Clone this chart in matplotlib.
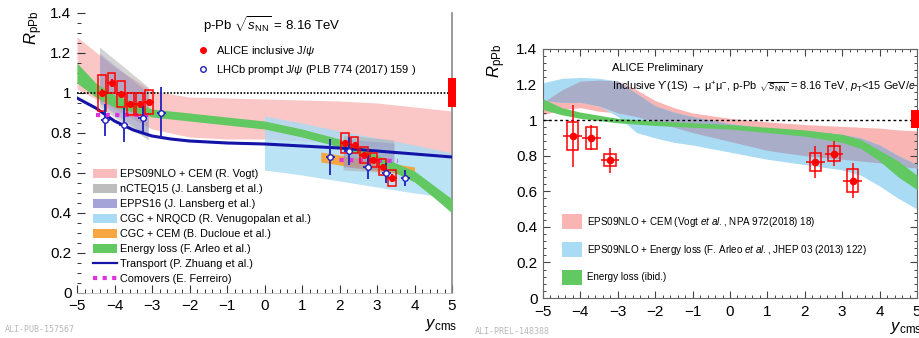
import numpy as np
import matplotlib.pyplot as plt
from matplotlib.patches import Patch
from matplotlib.lines import Line2D
from matplotlib.ticker import MultipleLocator, AutoMinorLocator, FuncFormatter

plt.rcParams['font.family'] = ['Liberation Sans', 'DejaVu Sans']
plt.rcParams['mathtext.fontset'] = 'custom'
plt.rcParams['mathtext.rm'] = 'Liberation Sans'
plt.rcParams['mathtext.it'] = 'Liberation Sans:italic'

W, H = 919, 338
def fx(px): return px / W
def fy(py): return 1 - py / H

# ---------------- left panel: J/psi ----------------
# ALICE inclusive J/psi
alice_x = [-4.33, -4.08, -3.83, -3.58, -3.33, -3.08, 2.15, 2.40, 2.65, 2.90, 3.15, 3.40]
alice_y = [1.00, 1.05, 0.995, 0.945, 0.945, 0.955, 0.75, 0.74, 0.69, 0.665, 0.63, 0.575]
alice_stat = [0.02, 0.02, 0.015, 0.015, 0.015, 0.015, 0.015, 0.015, 0.015, 0.015, 0.015, 0.02]
alice_syst = [0.09, 0.05, 0.065, 0.055, 0.055, 0.06, 0.048, 0.04, 0.038, 0.035, 0.038, 0.042]

# LHCb prompt J/psi
lhcb_x = [-4.25, -3.75, -3.25, -2.75, 1.75, 2.25, 2.75, 3.25, 3.75]
lhcb_y = [0.865, 0.84, 0.875, 0.90, 0.68, 0.71, 0.63, 0.60, 0.575]
lhcb_err = [0.08, 0.085, 0.07, 0.13, 0.09, 0.07, 0.06, 0.05, 0.04]

# EPS09NLO + CEM (Vogt)
vogt_x = [-5, -4, -3, -2, -1, 0, 1, 2, 3, 4, 5]
vogt_hi = [1.28, 1.13, 1.01, 0.98, 0.975, 0.97, 0.965, 0.96, 0.95, 0.93, 0.91]
vogt_lo = [1.02, 0.92, 0.82, 0.78, 0.77, 0.77, 0.76, 0.75, 0.73, 0.71, 0.69]

# nCTEQ15 / EPPS16 (Lansberg)
ncteq_bx = [-4.4, -3.1]
ncteq_bhi = [1.23, 1.03]
ncteq_blo = [0.93, 0.765]
ncteq_fx = [2.1, 3.45]
ncteq_fhi = [0.79, 0.765]
ncteq_flo = [0.615, 0.60]
epps_bx = [-4.4, -3.1]
epps_bhi = [1.20, 1.00]
epps_blo = [0.95, 0.78]
epps_fx = [2.1, 3.45]
epps_fhi = [0.77, 0.75]
epps_flo = [0.63, 0.61]

# CGC + NRQCD
nrqcd_x = [0, 1, 2, 3, 4, 5]
nrqcd_hi = [0.885, 0.85, 0.81, 0.775, 0.74, 0.70]
nrqcd_lo = [0.615, 0.59, 0.56, 0.53, 0.50, 0.475]

# CGC + CEM
cem_x = [1.5, 2.0, 2.5, 3.0, 3.5, 4.0]
cem_hi = [0.705, 0.69, 0.675, 0.66, 0.645, 0.63]
cem_lo = [0.655, 0.64, 0.625, 0.61, 0.60, 0.59]

# energy loss (Arleo)
eloss_x = [-5, -4.5, -4, -3, -2, -1, 0, 1, 2, 2.5, 3, 3.5, 4, 4.5, 5]
eloss_hi = [1.15, 1.05, 0.99, 0.92, 0.90, 0.88, 0.86, 0.82, 0.77, 0.735, 0.69, 0.65, 0.61, 0.54, 0.47]
eloss_lo = [1.05, 0.98, 0.93, 0.88, 0.86, 0.84, 0.82, 0.78, 0.73, 0.695, 0.65, 0.60, 0.555, 0.48, 0.40]

# transport (Zhuang)
trans_x = [-5, -4.5, -4, -3.5, -3, -2.5, -2, -1, 0, 1, 2, 3, 4, 5]
trans_y = [0.975, 0.925, 0.86, 0.815, 0.785, 0.77, 0.76, 0.75, 0.745, 0.735, 0.725, 0.71, 0.695, 0.68]

# comovers (Ferreiro)
com_bx = [-4.5, -3.0]
com_by = [0.89, 0.89]
com_fx = [2.0, 3.55]
com_fy = [0.665, 0.66]

glob_L = [0.93, 1.075]

# ---------------- right panel: Upsilon(1S) ----------------
ups_x = [-4.21, -3.71, -3.21, 2.28, 2.78, 3.28]
ups_y = [0.91, 0.90, 0.775, 0.765, 0.81, 0.66]
ups_stat = [0.175, 0.07, 0.07, 0.09, 0.07, 0.10]
ups_syst = [0.08, 0.06, 0.035, 0.053, 0.042, 0.064]

r_x = [-5, -4.5, -4, -3.5, -3, -2.5, -2, -1.5, -1, 0, 1, 2, 3, 3.5, 4, 4.5, 5]
rvogt_hi = [1.10, 1.17, 1.22, 1.225, 1.22, 1.17, 1.11, 1.07, 1.04, 1.01, 0.99, 0.975, 0.965, 0.96, 0.955, 0.945, 0.94]
rvogt_lo = [1.03, 1.06, 1.07, 1.05, 1.04, 1.02, 0.99, 0.96, 0.93, 0.88, 0.83, 0.80, 0.78, 0.77, 0.76, 0.74, 0.73]
rarleo_hi = [1.21, 1.235, 1.24, 1.235, 1.22, 1.15, 1.08, 1.045, 1.02, 0.98, 0.955, 0.94, 0.92, 0.90, 0.86, 0.80, 0.75]
rarleo_lo = [1.11, 1.10, 1.10, 1.08, 1.02, 0.93, 0.90, 0.875, 0.86, 0.82, 0.78, 0.75, 0.72, 0.69, 0.63, 0.56, 0.50]

reloss_x = [-5, -4.5, -4, -3, -2, -1, 0, 1, 2, 3, 3.5, 4, 4.5, 5]
reloss_hi = [1.12, 1.07, 1.045, 1.01, 0.995, 0.985, 0.975, 0.96, 0.945, 0.92, 0.89, 0.83, 0.77, 0.69]
reloss_lo = [1.06, 1.03, 1.01, 0.985, 0.97, 0.96, 0.95, 0.93, 0.91, 0.875, 0.84, 0.77, 0.68, 0.61]

glob_R = [0.955, 1.056]

c_pink = '#f9b4b4'
c_lblue = '#a9dcf4'
c_gray = '#a8a8a8'
c_purple = '#8a8ad0'
c_orange = '#f6a742'
c_green = '#62c862'
c_slate = '#a9adc8'

fig = plt.figure(figsize=(9.19, 3.38), dpi=100)
axL = fig.add_axes([fx(77), fy(293), (452 - 77) / W, (293 - 13) / H])
axR = fig.add_axes([fx(543), fy(298), (917 - 543) / W, (298 - 49) / H])

# ---------- left ----------
ax = axL
ax.fill_between(vogt_x, vogt_lo, vogt_hi, color=c_pink, alpha=0.75, lw=0, zorder=1)
ax.fill_between(nrqcd_x, nrqcd_lo, nrqcd_hi, color=c_lblue, alpha=0.8, lw=0, zorder=2)
ax.fill_between(cem_x, cem_lo, cem_hi, color=c_orange, lw=0, zorder=3)
ax.fill_between(ncteq_bx, ncteq_blo, ncteq_bhi, color=c_gray, alpha=0.5, lw=0, zorder=4)
ax.fill_between(ncteq_fx, ncteq_flo, ncteq_fhi, color=c_gray, alpha=0.5, lw=0, zorder=4)
ax.fill_between(epps_bx, epps_blo, epps_bhi, color=c_purple, alpha=0.35, lw=0, zorder=4)
ax.fill_between(epps_fx, epps_flo, epps_fhi, color=c_purple, alpha=0.35, lw=0, zorder=4)
ax.fill_between(eloss_x, eloss_lo, eloss_hi, color=c_green, lw=0, zorder=5)
ax.plot(trans_x, trans_y, color='#1414a8', lw=2.2, zorder=6)
ax.plot(com_bx, com_by, color='#e030e0', lw=3, ls=(0, (1, 1.3)), zorder=7)
ax.plot(com_fx, com_fy, color='#e030e0', lw=3, ls=(0, (1, 1.3)), zorder=7)
ax.axhline(1, color='black', lw=1.2, ls=(0, (1, 1)), zorder=6.5)

ax.bar(alice_x, 2 * np.array(alice_syst), bottom=np.array(alice_y) - np.array(alice_syst),
       width=0.2, fill=False, edgecolor='red', lw=1.1, zorder=9)
ax.errorbar(alice_x, alice_y, yerr=alice_stat, xerr=0.125, fmt='o', color='red', ms=4,
            elinewidth=1.5, capsize=0, zorder=10)
ax.errorbar(lhcb_x, lhcb_y, yerr=lhcb_err, xerr=0.12, fmt='o', color='#2020c0', mfc='white',
            mec='#2020c0', ms=4, mew=1, elinewidth=1.3, capsize=0, zorder=10)
ax.bar(5, glob_L[1] - glob_L[0], bottom=glob_L[0], width=0.22, color='red', lw=0,
       clip_on=False, zorder=11)

ax.set_xlim(-5, 5)
ax.set_ylim(0, 1.4)
ax.xaxis.set_major_locator(MultipleLocator(1))
ax.xaxis.set_minor_locator(AutoMinorLocator(5))
ax.yaxis.set_major_locator(MultipleLocator(0.2))
ax.yaxis.set_minor_locator(AutoMinorLocator(4))
ax.yaxis.set_major_formatter(FuncFormatter(lambda v, p: '%g' % round(v, 2)))
ax.tick_params(which='both', direction='in', labelsize=11, color='#333333')
ax.tick_params(which='major', length=5.5, width=0.8)
ax.tick_params(which='minor', length=3, width=0.7)
ax.tick_params(axis='x', pad=4.5)
ax.tick_params(axis='y', pad=4)
for s in ['top', 'left']:
    ax.spines[s].set_visible(False)
ax.spines['bottom'].set_color('#bbbbbb')
ax.spines['bottom'].set_linewidth(0.6)
ax.spines['right'].set_color('#888888')
ax.spines['right'].set_linewidth(1.2)

fig.text(fx(203), fy(25), r'p-Pb $\sqrt{s_{\rm NN}}$ = 8.16 TeV', fontsize=9.5, va='center', ha='left')

h_top = [Line2D([], [], marker='o', ls='', color='red', ms=4),
         Line2D([], [], marker='o', ls='', mfc='white', mec='#2020c0', ms=4, mew=1)]
lg1 = ax.legend(h_top, [r'ALICE inclusive J/$\psi$', r'LHCb prompt J/$\psi$ (PLB 774 (2017) 159 )'],
                loc='upper left', bbox_to_anchor=(fx(197), fy(44)), bbox_transform=fig.transFigure,
                frameon=False, fontsize=8, handlelength=1.0, handletextpad=0.7,
                borderpad=0, borderaxespad=0, labelspacing=0.45, numpoints=1)
ax.add_artist(lg1)

h_mod = [Patch(color=c_pink, alpha=0.9, lw=0), Patch(color='#bdbdbd', lw=0),
         Patch(color='#a4a4d8', lw=0), Patch(color=c_lblue, lw=0),
         Patch(color=c_orange, lw=0), Patch(color=c_green, lw=0),
         Line2D([], [], color='#1414a8', lw=1.6),
         Line2D([], [], color='#e030e0', lw=3, ls=(0, (1, 1.3)))]
l_mod = ['EPS09NLO + CEM (R. Vogt)', 'nCTEQ15 (J. Lansberg et al.)',
         'EPPS16 (J. Lansberg et al.)', 'CGC + NRQCD (R. Venugopalan et al.)',
         'CGC + CEM (B. Ducloue et al.)', 'Energy loss (F. Arleo et al.)',
         'Transport (P. Zhuang et al.)', 'Comovers (E. Ferreiro)']
ax.legend(h_mod, l_mod, loc='upper left', bbox_to_anchor=(fx(93), fy(169)),
          bbox_transform=fig.transFigure, frameon=False, fontsize=7.8,
          handlelength=2.2, handleheight=0.95, handletextpad=0.25,
          borderpad=0, borderaxespad=0, labelspacing=0.42)

fig.text(fx(34), fy(28), r'$R_{\rm pPb}$', rotation=90, fontsize=12, ha='center', va='center')
fig.text(fx(441), fy(325), r'$y_{\rm cms}$', fontsize=12, ha='center', va='center')
fig.text(fx(5), fy(330), 'ALI-PUB-157567', fontsize=6, color='#b8b8b8',
         family='DejaVu Sans Mono', ha='left', va='center')

# ---------- right ----------
ax = axR
rv_lo, rv_hi = np.array(rvogt_lo), np.array(rvogt_hi)
ra_lo, ra_hi = np.array(rarleo_lo), np.array(rarleo_hi)
ax.fill_between(r_x, rv_lo, rv_hi, color=c_pink, lw=0, zorder=1)
ax.fill_between(r_x, ra_lo, ra_hi, color=c_lblue, lw=0, zorder=2)
ov_lo = np.maximum(rv_lo, ra_lo)
ov_hi = np.minimum(rv_hi, ra_hi)
ax.fill_between(r_x, ov_lo, ov_hi, where=ov_hi > ov_lo, interpolate=True,
                color=c_slate, lw=0, zorder=3)
ax.fill_between(reloss_x, reloss_lo, reloss_hi, color=c_green, lw=0, zorder=4)
ax.axhline(1, color='black', lw=1.0, ls=(0, (2, 2)), zorder=5)

ax.bar(ups_x, 2 * np.array(ups_syst), bottom=np.array(ups_y) - np.array(ups_syst),
       width=0.3, fill=False, edgecolor='red', lw=1.1, zorder=9)
ax.errorbar(ups_x, ups_y, yerr=ups_stat, xerr=0.25, fmt='o', color='red', ms=4.5,
            elinewidth=1.1, capsize=0, zorder=10)
ax.bar(5, glob_R[1] - glob_R[0], bottom=glob_R[0], width=0.3, color='red', lw=0,
       clip_on=False, zorder=11)

ax.set_xlim(-5, 5)
ax.set_ylim(0, 1.4)
ax.xaxis.set_major_locator(MultipleLocator(1))
ax.xaxis.set_minor_locator(AutoMinorLocator(5))
ax.yaxis.set_major_locator(MultipleLocator(0.2))
ax.yaxis.set_minor_locator(AutoMinorLocator(5))
ax.yaxis.set_major_formatter(FuncFormatter(lambda v, p: '%g' % round(v, 2)))
ax.tick_params(which='both', direction='in', top=True, right=True, labelsize=11, color='#444444')
ax.tick_params(which='major', length=5, width=0.8)
ax.tick_params(which='minor', length=2.5, width=0.7)
ax.tick_params(axis='x', pad=5)
ax.tick_params(axis='y', pad=4)
for s in ax.spines.values():
    s.set_color('#666666')
    s.set_linewidth(0.8)

fig.text(fx(612), fy(68), 'ALICE Preliminary', fontsize=8, ha='left', va='center')
fig.text(fx(612), fy(87), r'Inclusive ϒ(1S) → μ$^{+}$μ$^{-}$, p-Pb $\sqrt{s_{\rm NN}}$ = 8.16 TeV, $p_{\rm T}$<15 GeV/$c$',
         fontsize=7.9, ha='left', va='center')

h_r = [Patch(color=c_pink, lw=0), Patch(color=c_lblue, lw=0), Patch(color=c_green, lw=0)]
l_r = [r'EPS09NLO + CEM (Vogt $et\ al.$, NPA 972(2018) 18)',
       r'EPS09NLO + Energy loss (F. Arleo $et\ al.$, JHEP 03 (2013) 122)',
       'Energy loss (ibid.)']
ax.legend(h_r, l_r, loc='upper left', bbox_to_anchor=(fx(562), fy(214)),
          bbox_transform=fig.transFigure, frameon=False, fontsize=7.1,
          handlelength=2.0, handleheight=2.0, handletextpad=0.5,
          borderpad=0, borderaxespad=0, labelspacing=1.28)

fig.text(fx(497), fy(61), r'$R_{\rm pPb}$', rotation=90, fontsize=12, ha='center', va='center')
fig.text(fx(906), fy(328), r'$y_{\rm cms}$', fontsize=12, ha='center', va='center')
fig.text(fx(475), fy(332), 'ALI-PREL-148388', fontsize=6, color='#b8b8b8',
         family='DejaVu Sans Mono', ha='left', va='center')

fig.savefig('out.png', dpi=100)
